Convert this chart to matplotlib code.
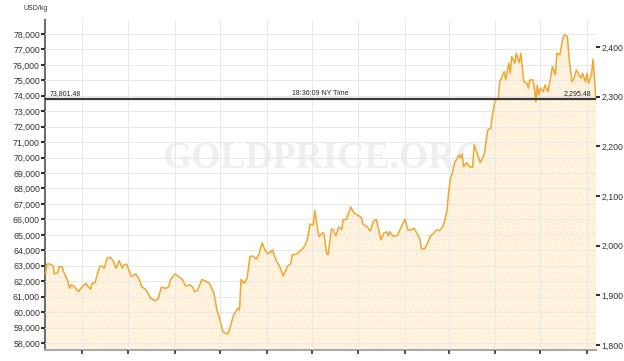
import matplotlib
matplotlib.use("Agg")
import matplotlib.pyplot as plt
import matplotlib.dates as mdates
import matplotlib.ticker as mticker
import pandas as pd

# gold price, USD per kg, one year to the latest quote
start = pd.Timestamp("2023-06-07")
day_offsets = [
    0, 1, 3, 5, 6, 8, 9, 11, 12, 14, 15, 16, 17, 19, 21, 22, 24, 27, 28, 30,
    31, 33, 34, 36, 37, 39, 41, 43, 45, 47, 49, 51, 52, 54, 55, 57, 60, 62, 64, 67,
    70, 73, 75, 77, 80, 82, 83, 86, 88, 91, 93, 96, 98, 99, 101, 104, 107, 109, 112, 114,
    116, 118, 121, 122, 125, 126, 128, 129, 130, 132, 134, 136, 138, 140, 142, 144, 146, 148, 151, 153,
    156, 158, 161, 163, 164, 167, 170, 172, 174, 176, 178, 179, 181, 182, 184, 185, 187, 188, 190, 191,
    193, 195, 197, 198, 200, 203, 205, 208, 210, 211, 214, 216, 218, 220, 222, 223, 225, 227, 228, 229,
    231, 234, 236, 239, 241, 243, 245, 247, 249, 250, 252, 254, 256, 258, 260, 262, 264, 265, 267, 268,
    269, 271, 272, 275, 276, 277, 278, 280, 282, 284, 285, 287, 289, 291, 292, 294, 296, 297, 299, 301,
    302, 303, 305, 306, 308, 309, 310, 312, 313, 315, 316, 318, 320, 321, 322, 324, 325, 326, 327, 328,
    329, 331, 332, 334, 336, 337, 339, 340, 342, 344, 345, 347, 348, 350, 351, 353, 354, 356, 357, 359,
    360, 361, 363, 364, 366,
]
price_kg = [
    62470, 63110, 63110, 62990, 62470, 62530, 62940, 62940, 62620, 62210,
    61970, 61540, 61760, 61690, 61430, 61320, 61610, 61870, 61690, 61480,
    61870, 61900, 62290, 62940, 62990, 62840, 63480, 63550, 63330, 62840,
    63330, 62840, 63050, 63110, 62840, 62290, 62470, 62190, 61650, 61430,
    60890, 60740, 60890, 61610, 61540, 61650, 62080, 62470, 62340, 62120,
    61690, 61760, 61610, 61320, 61390, 62120, 61970, 61870, 61220, 60140,
    59490, 58730, 58580, 58730, 59810, 59960, 60250, 60140, 62120, 61870,
    62190, 63590, 63630, 63420, 63760, 64490, 64020, 63760, 64020, 63420,
    62900, 62340, 62990, 63110, 63700, 63760, 64020, 64230, 64670, 65700,
    65640, 66580, 65320, 64890, 65120, 65120, 63760, 63760, 65350, 65380,
    64930, 65510, 65350, 65990, 65990, 66800, 66420, 66250, 66120, 65700,
    65510, 65250, 65870, 65990, 65100, 64670, 65120, 65190, 64930, 65200,
    64910, 64960, 65410, 66010, 65320, 65320, 65430, 65100, 64730, 64090,
    64090, 64470, 64930, 65100, 65320, 65270, 65530, 65750, 66610, 67710,
    68520, 69200, 69670, 70170, 69960, 70230, 69410, 69670, 69410, 69370,
    70820, 70280, 69670, 70020, 70380, 71790, 71900, 72650, 73730, 73770,
    74910, 75130, 75560, 75020, 76100, 75460, 76530, 76100, 76750, 76140,
    76750, 74910, 74810, 74490, 75020, 75020, 74590, 73620, 74700, 74050,
    74490, 74270, 74700, 74270, 75240, 75880, 75350, 76750, 76640, 77720,
    77940, 77830, 76530, 74910, 75020, 75670, 75460, 75130, 75460, 74910,
    75460, 74810, 75350, 76360, 73801.48,
]
last_kg = 73801.48
last_oz = 2295.48
time_label = "18:36:09 NY Time"
OZ_PER_KG = 32.1507

left_ticks = list(range(58000, 79000, 1000))
right_ticks = list(range(1800, 2500, 100))
y_lo, y_hi = 57550, 78900

dates = start + pd.to_timedelta(day_offsets, unit="D")

plt.rcParams["font.family"] = ["Liberation Sans", "DejaVu Sans"]
plt.rcParams["hatch.color"] = "#f9e4d8"
plt.rcParams["hatch.linewidth"] = 0.3
fig = plt.figure(figsize=(6.24, 3.61), dpi=100)
ax = fig.add_axes([0.0729, 0.0305, 0.8822, 0.9141])

# watermark sits under the area fill
ax.text(0.505, 0.58, "GOLDPRICE.ORG", transform=ax.transAxes, ha="center", va="center",
        fontsize=27, fontweight="bold", family="Liberation Serif", color="#efefef", zorder=0)

ax.fill_between(dates, price_kg, y_lo, facecolor="#fff3de", edgecolor="none",
                hatch="...", zorder=1)
ax.plot(dates, price_kg, color="#f2a630", lw=1.1, zorder=3)

ax.axhline(last_kg, color="#3a3a3a", lw=1.6, zorder=4)
ax.text(0.008, last_kg + 120, f"{last_kg:,.2f}", transform=ax.get_yaxis_transform(),
        fontsize=5, color="#222", va="bottom", ha="left", zorder=5)
ax.text(0.5, last_kg + 120, time_label, transform=ax.get_yaxis_transform(),
        fontsize=5, color="#222", va="bottom", ha="center", zorder=5)
ax.text(0.992, last_kg + 120, f"{last_oz:,.2f}", transform=ax.get_yaxis_transform(),
        fontsize=5, color="#222", va="bottom", ha="right", zorder=5)

ax.set_xlim(start, start + pd.Timedelta(days=366))
ax.set_ylim(y_lo, y_hi)
ax.set_yticks(left_ticks)
ax.yaxis.set_major_formatter(mticker.StrMethodFormatter("{x:,.0f}"))
ax.xaxis.set_major_locator(mdates.MonthLocator(bymonthday=1))
ax.xaxis.set_major_formatter(mticker.NullFormatter())
ax.grid(True, color="#e8e8e8", lw=0.7, zorder=2)
ax.set_axisbelow(False)

for side in ["top", "right"]:
    ax.spines[side].set_visible(False)
ax.spines["left"].set_color("#707070")
ax.spines["left"].set_linewidth(1.5)
ax.spines["bottom"].set_color("#a8a8b0")
ax.spines["bottom"].set_linewidth(1.5)
ax.tick_params(axis="y", length=3, width=1.5, color="#333", labelsize=6.3,
               labelcolor="#333", pad=1)
ax.tick_params(axis="x", length=3, width=1.2, color="#333")

ax2 = ax.twinx()
ax2.set_ylim(y_lo / OZ_PER_KG, y_hi / OZ_PER_KG)
ax2.set_yticks(right_ticks)
ax2.yaxis.set_major_formatter(mticker.StrMethodFormatter("{x:,.0f}"))
for side in ["top", "right", "left", "bottom"]:
    ax2.spines[side].set_visible(False)
ax2.tick_params(axis="y", length=3, width=1.5, color="#333", labelsize=6.3,
                labelcolor="#333", pad=1)

fig.text(24 / 624, 1 - 9 / 361, "USD/kg", fontsize=5, color="#333", va="center")

fig.savefig("out.png", dpi=100)
